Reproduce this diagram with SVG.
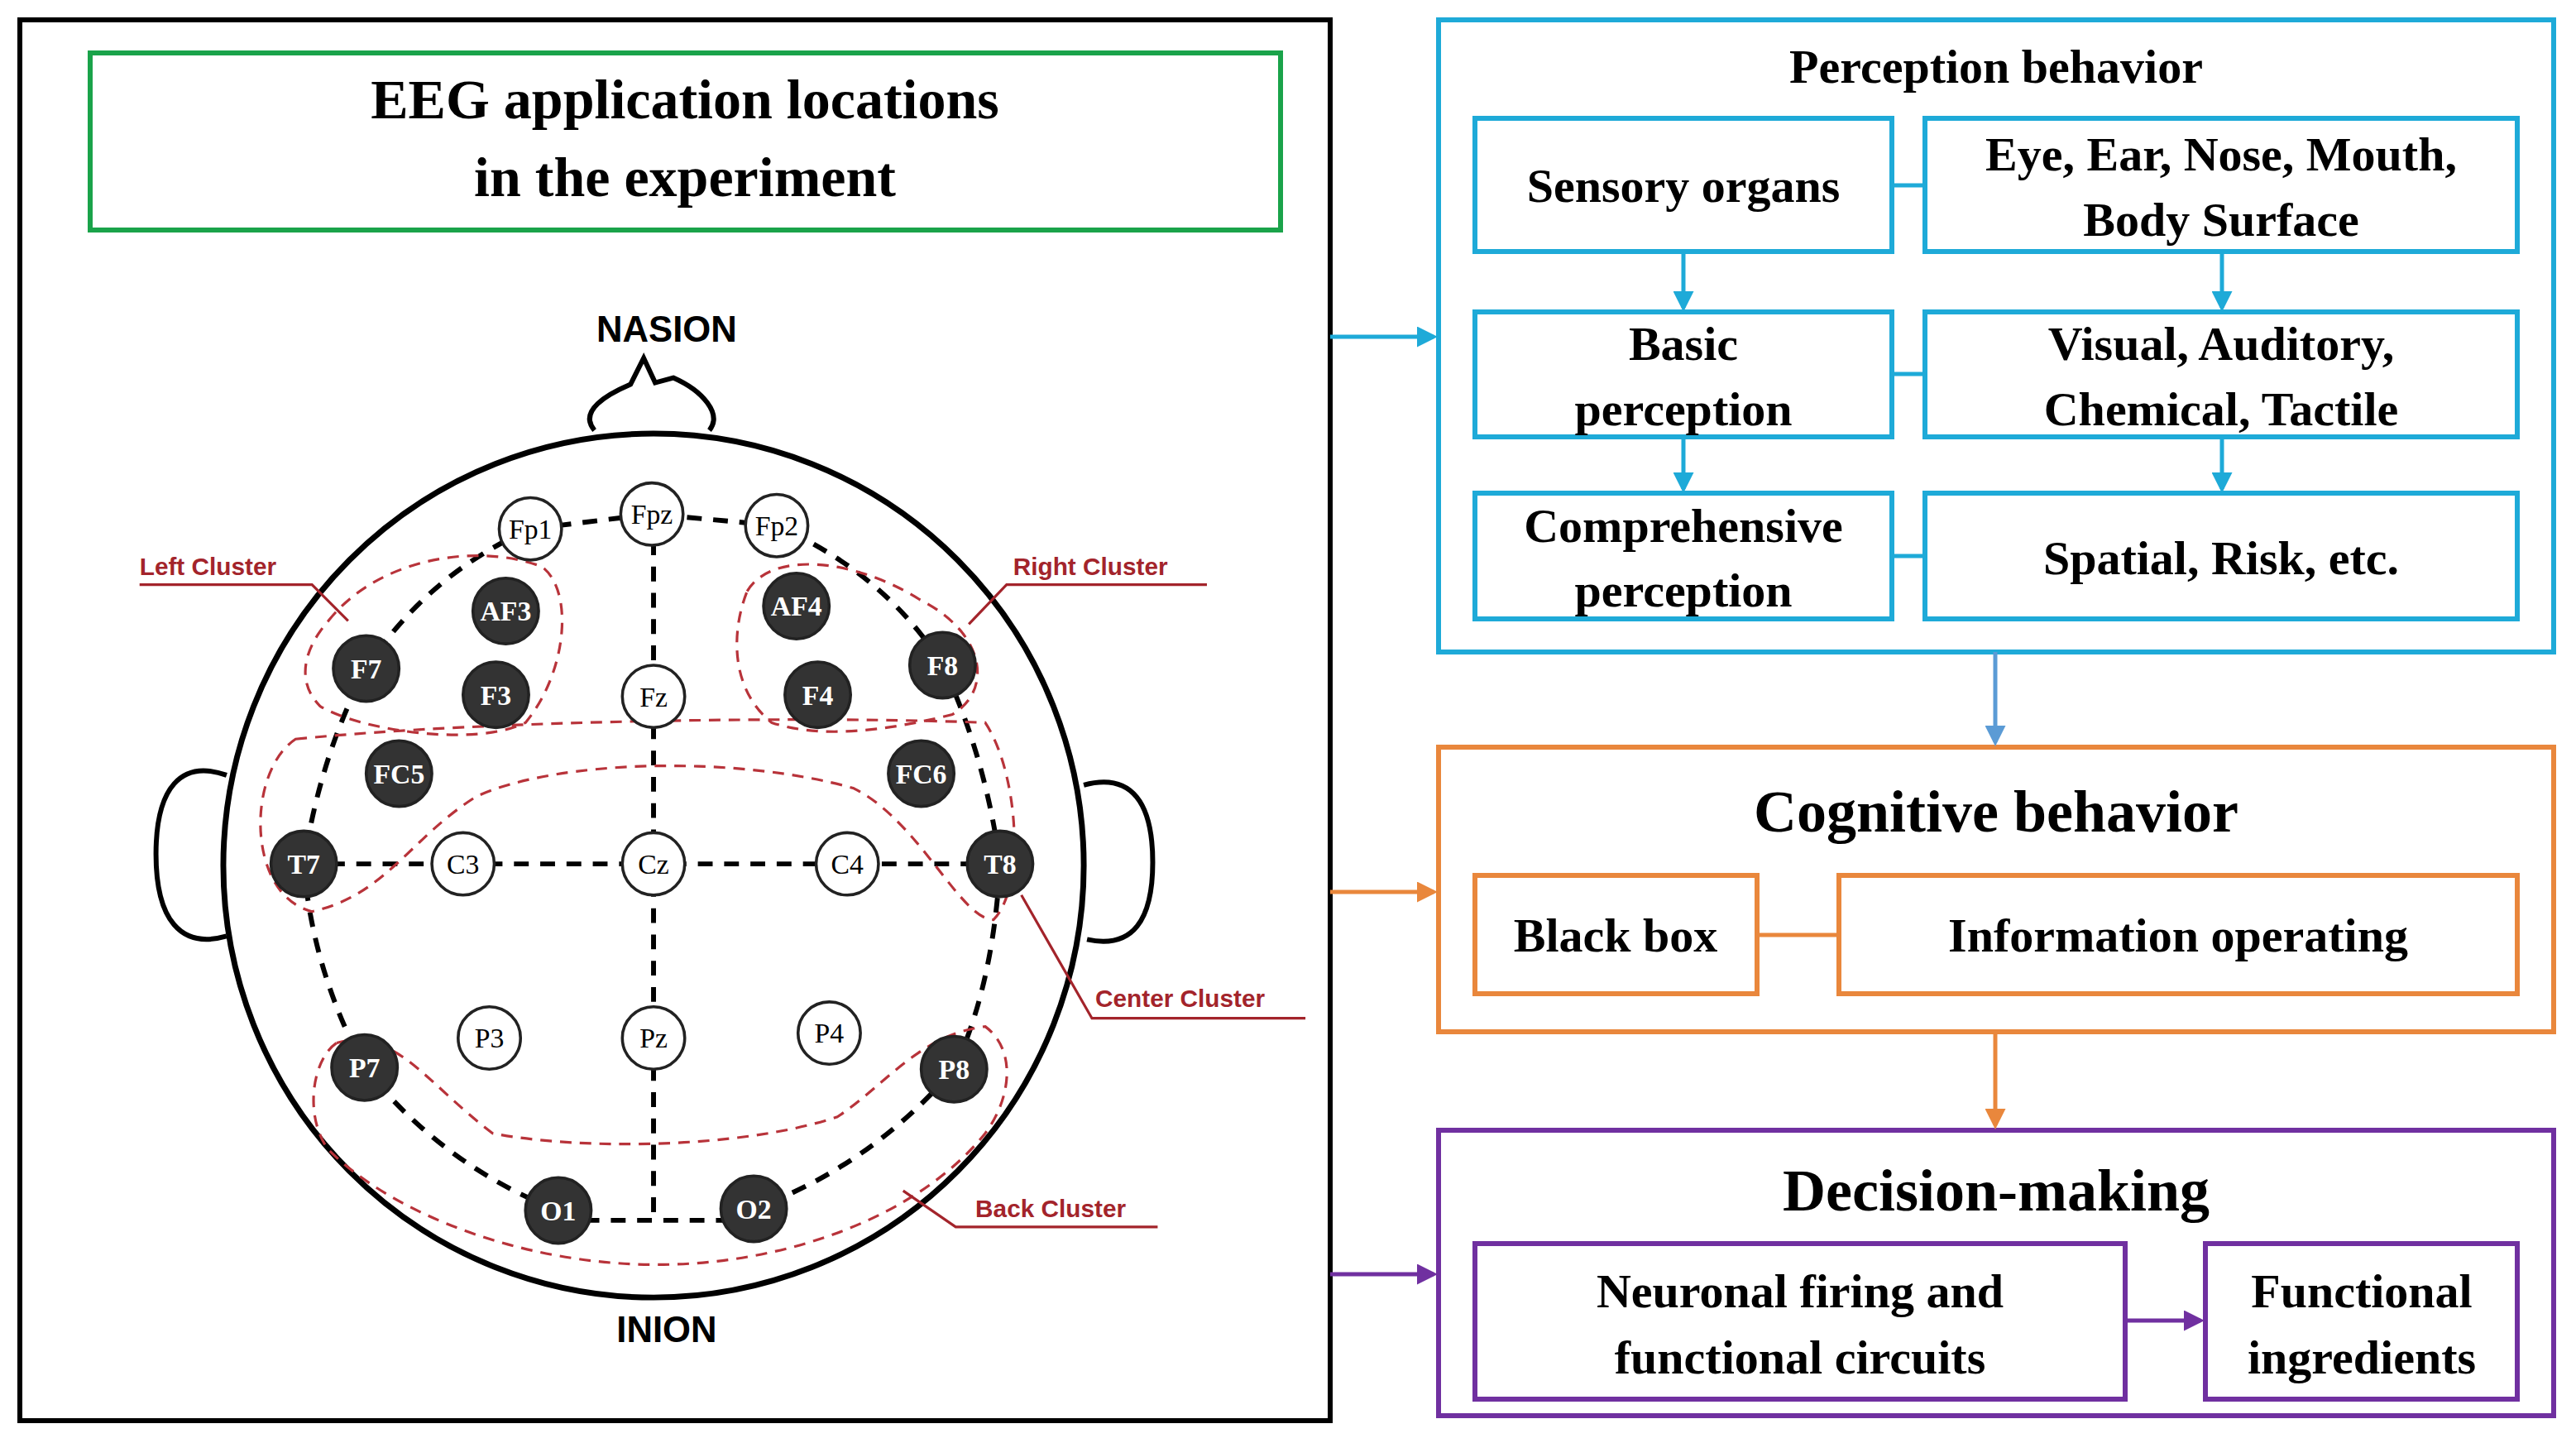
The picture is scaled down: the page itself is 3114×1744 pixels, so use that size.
<svg xmlns="http://www.w3.org/2000/svg" width="3114" height="1744" viewBox="0 0 3114 1744">
<defs>
<style>
.tb{font-family:"Liberation Serif","Times New Roman",serif;font-weight:bold;fill:#000;text-anchor:middle}
.ar{font-family:"Liberation Sans",Arial,sans-serif;font-weight:bold;text-anchor:middle}
.red{fill:#A3242B;font-family:"Liberation Sans",Arial,sans-serif;font-weight:bold;font-size:15px}
.cl{fill:none;stroke:#B8333A;stroke-width:1.6;stroke-dasharray:7 5}
.bd{fill:none;stroke:#000;stroke-width:3;stroke-dasharray:9 7}
.eo{fill:#fff;stroke:#222;stroke-width:1.8}
.ef{fill:#333;stroke:#222;stroke-width:1.8}
.et{font-family:"Liberation Serif",serif;font-size:17px;text-anchor:middle}
.blue{fill:none;stroke:#1EAAD8;stroke-width:6}
.org{fill:none;stroke:#E9873C;stroke-width:6}
.pur{fill:none;stroke:#7030A0;stroke-width:6}
</style>
<marker id="mb" markerWidth="5" markerHeight="5" refX="4" refY="2.5" orient="auto"><path d="M0,0 L5,2.5 L0,5 Z" fill="#1EAAD8"/></marker>
<marker id="mb2" markerWidth="5" markerHeight="5" refX="4" refY="2.5" orient="auto"><path d="M0,0 L5,2.5 L0,5 Z" fill="#5B9BD5"/></marker>
<marker id="mo" markerWidth="5" markerHeight="5" refX="4" refY="2.5" orient="auto"><path d="M0,0 L5,2.5 L0,5 Z" fill="#E9873C"/></marker>
<marker id="mp" markerWidth="5" markerHeight="5" refX="4" refY="2.5" orient="auto"><path d="M0,0 L5,2.5 L0,5 Z" fill="#7030A0"/></marker>
</defs>
<rect width="3114" height="1744" fill="#fff"/>

<g id="left-panel">
<rect x="24" y="24" width="1584" height="1693" fill="none" stroke="#000" stroke-width="6"/>
<rect x="109" y="64" width="1439" height="214" fill="none" stroke="#1AA34A" stroke-width="6"/>
<text class="tb" x="828" y="143" font-size="68">EEG application locations</text>
<text class="tb" x="828" y="237" font-size="68">in the experiment</text>
</g>

<g id="head" transform="scale(1.985)">
<text class="ar" x="406" y="208" font-size="22">NASION</text>
<text class="ar" x="406" y="817" font-size="22">INION</text>
<path d="M362,262 C352,250 370,240 384,234 L392,218 L399,233 L410,230 C428,238 440,252 432,262" fill="#fff" stroke="#000" stroke-width="3"/>
<path d="M138,472 C110,462 95,480 95,520 C95,560 110,578 138,570" fill="none" stroke="#000" stroke-width="3"/>
<path d="M660,478 C690,470 702,490 702,525 C702,560 690,578 662,572" fill="none" stroke="#000" stroke-width="3"/>
<ellipse cx="398" cy="527" rx="262" ry="263" fill="#fff" stroke="#000" stroke-width="3.5"/>
<path class="bd" d="M323,322 L397,313 L473,320 Q540,350 574,405 Q600,460 609,526 Q605,600 581,651 Q530,710 459,736"/>
<path class="bd" d="M340,737 Q270,710 222,650 Q190,590 185,526 Q195,460 223,407 Q260,350 323,322"/>
<path class="bd" d="M398,313 L398,743 M340,743 L459,743 M185,526 L609,526"/>
<path class="cl" d="M200,378 C230,340 290,330 330,345 C350,360 345,410 320,440 C290,455 220,445 195,430 C180,415 185,395 200,378 Z"/>
<path class="cl" d="M455,360 C470,335 520,340 560,365 C600,385 605,420 580,435 C540,445 500,450 470,440 C445,420 445,385 455,360 Z"/>
<path class="cl" d="M180,450 C300,438 500,436 600,440 C620,470 625,540 605,560 C585,560 560,500 520,480 C450,460 340,462 290,485 C250,510 235,545 190,555 C150,545 150,470 180,450 Z"/>
<path class="cl" d="M205,635 C240,625 260,660 300,690 C350,700 450,700 510,680 C540,660 560,630 600,625 C620,640 615,670 600,690 C560,740 480,770 400,770 C320,770 240,740 200,700 C185,680 190,645 205,635 Z"/>
<g stroke="#A3242B" stroke-width="1.6" fill="none">
<path d="M85,356 L190,356 L212,378"/>
<path d="M735,356 L613,356 L590,380"/>
<path d="M795,620 L665,620 L622,545"/>
<path d="M705,747 L582,747 L550,725"/>
</g>
<text class="red" x="85" y="350">Left Cluster</text>
<text class="red" x="617" y="350">Right Cluster</text>
<text class="red" x="667" y="613">Center Cluster</text>
<text class="red" x="594" y="741">Back Cluster</text>
<g id="electrodes">
<circle class="eo" cx="323" cy="322" r="19"/><text class="et" x="323" y="328">Fp1</text>
<circle class="eo" cx="397" cy="313" r="19"/><text class="et" x="397" y="319">Fpz</text>
<circle class="eo" cx="473" cy="320" r="19"/><text class="et" x="473" y="326">Fp2</text>
<circle class="ef" cx="308" cy="372" r="20"/><text class="et" x="308" y="378" fill="#fff" font-weight="bold">AF3</text>
<circle class="ef" cx="485" cy="369" r="20"/><text class="et" x="485" y="375" fill="#fff" font-weight="bold">AF4</text>
<circle class="ef" cx="223" cy="407" r="20"/><text class="et" x="223" y="413" fill="#fff" font-weight="bold">F7</text>
<circle class="ef" cx="302" cy="423" r="20"/><text class="et" x="302" y="429" fill="#fff" font-weight="bold">F3</text>
<circle class="eo" cx="398" cy="424" r="19"/><text class="et" x="398" y="430">Fz</text>
<circle class="ef" cx="498" cy="423" r="20"/><text class="et" x="498" y="429" fill="#fff" font-weight="bold">F4</text>
<circle class="ef" cx="574" cy="405" r="20"/><text class="et" x="574" y="411" fill="#fff" font-weight="bold">F8</text>
<circle class="ef" cx="243" cy="471" r="20"/><text class="et" x="243" y="477" fill="#fff" font-weight="bold">FC5</text>
<circle class="ef" cx="561" cy="471" r="20"/><text class="et" x="561" y="477" fill="#fff" font-weight="bold">FC6</text>
<circle class="ef" cx="185" cy="526" r="20"/><text class="et" x="185" y="532" fill="#fff" font-weight="bold">T7</text>
<circle class="eo" cx="282" cy="526" r="19"/><text class="et" x="282" y="532">C3</text>
<circle class="eo" cx="398" cy="526" r="19"/><text class="et" x="398" y="532">Cz</text>
<circle class="eo" cx="516" cy="526" r="19"/><text class="et" x="516" y="532">C4</text>
<circle class="ef" cx="609" cy="526" r="20"/><text class="et" x="609" y="532" fill="#fff" font-weight="bold">T8</text>
<circle class="ef" cx="222" cy="650" r="20"/><text class="et" x="222" y="656" fill="#fff" font-weight="bold">P7</text>
<circle class="eo" cx="298" cy="632" r="19"/><text class="et" x="298" y="638">P3</text>
<circle class="eo" cx="398" cy="632" r="19"/><text class="et" x="398" y="638">Pz</text>
<circle class="eo" cx="505" cy="629" r="19"/><text class="et" x="505" y="635">P4</text>
<circle class="ef" cx="581" cy="651" r="20"/><text class="et" x="581" y="657" fill="#fff" font-weight="bold">P8</text>
<circle class="ef" cx="340" cy="737" r="20"/><text class="et" x="340" y="743" fill="#fff" font-weight="bold">O1</text>
<circle class="ef" cx="459" cy="736" r="20"/><text class="et" x="459" y="742" fill="#fff" font-weight="bold">O2</text>
</g>
</g>

<g id="perception">
<rect class="blue" x="1739" y="24" width="1348" height="764"/>
<text class="tb" x="2413" y="100" font-size="58">Perception  behavior</text>
<rect class="blue" x="1783" y="143" width="504" height="161"/>
<text class="tb" x="2035" y="244" font-size="58">Sensory organs</text>
<rect class="blue" x="2327" y="143" width="716" height="161"/>
<text class="tb" x="2685" y="206" font-size="58">Eye, Ear, Nose, Mouth,</text>
<text class="tb" x="2685" y="285" font-size="58">Body Surface</text>
<rect class="blue" x="1783" y="377" width="504" height="151"/>
<text class="tb" x="2035" y="435" font-size="58">Basic</text>
<text class="tb" x="2035" y="514" font-size="58">perception</text>
<rect class="blue" x="2327" y="377" width="716" height="151"/>
<text class="tb" x="2685" y="435" font-size="58">Visual, Auditory,</text>
<text class="tb" x="2685" y="514" font-size="58">Chemical, Tactile</text>
<rect class="blue" x="1783" y="596" width="504" height="152"/>
<text class="tb" x="2035" y="655" font-size="58">Comprehensive</text>
<text class="tb" x="2035" y="733" font-size="58">perception</text>
<rect class="blue" x="2327" y="596" width="716" height="152"/>
<text class="tb" x="2685" y="694" font-size="58">Spatial, Risk, etc.</text>
</g>

<g id="cognitive">
<rect class="org" x="1739" y="903" width="1348" height="344"/>
<text class="tb" x="2413" y="1005" font-size="72">Cognitive behavior</text>
<rect class="org" x="1783" y="1058" width="341" height="143"/>
<text class="tb" x="1953" y="1150" font-size="58">Black box</text>
<rect class="org" x="2223" y="1058" width="820" height="143"/>
<text class="tb" x="2633" y="1150" font-size="58">Information operating</text>
</g>

<g id="decision">
<rect class="pur" x="1739" y="1366" width="1348" height="345"/>
<text class="tb" x="2413" y="1463" font-size="72">Decision-making</text>
<rect class="pur" x="1783" y="1503" width="786" height="188"/>
<text class="tb" x="2176" y="1580" font-size="58">Neuronal firing and</text>
<text class="tb" x="2176" y="1660" font-size="58">functional circuits</text>
<rect class="pur" x="2666" y="1503" width="377" height="188"/>
<text class="tb" x="2855" y="1580" font-size="58">Functional</text>
<text class="tb" x="2855" y="1660" font-size="58">ingredients</text>
</g>

<g id="connectors" fill="none">
<line x1="1608" y1="407" x2="1733" y2="407" stroke="#1EAAD8" stroke-width="5" marker-end="url(#mb)"/>
<line x1="1608" y1="1078" x2="1733" y2="1078" stroke="#E9873C" stroke-width="5" marker-end="url(#mo)"/>
<line x1="1608" y1="1540" x2="1733" y2="1540" stroke="#7030A0" stroke-width="5" marker-end="url(#mp)"/>
<line x1="2287" y1="224" x2="2327" y2="224" stroke="#1EAAD8" stroke-width="5"/>
<line x1="2287" y1="452" x2="2327" y2="452" stroke="#1EAAD8" stroke-width="5"/>
<line x1="2287" y1="672" x2="2327" y2="672" stroke="#1EAAD8" stroke-width="5"/>
<line x1="2035" y1="304" x2="2035" y2="372" stroke="#1EAAD8" stroke-width="5" marker-end="url(#mb)"/>
<line x1="2035" y1="528" x2="2035" y2="591" stroke="#1EAAD8" stroke-width="5" marker-end="url(#mb)"/>
<line x1="2686" y1="304" x2="2686" y2="372" stroke="#1EAAD8" stroke-width="5" marker-end="url(#mb)"/>
<line x1="2686" y1="528" x2="2686" y2="591" stroke="#1EAAD8" stroke-width="5" marker-end="url(#mb)"/>
<line x1="2412" y1="788" x2="2412" y2="897" stroke="#5B9BD5" stroke-width="5" marker-end="url(#mb2)"/>
<line x1="2124" y1="1130" x2="2223" y2="1130" stroke="#E9873C" stroke-width="5"/>
<line x1="2412" y1="1247" x2="2412" y2="1360" stroke="#E9873C" stroke-width="5" marker-end="url(#mo)"/>
<line x1="2569" y1="1596" x2="2660" y2="1596" stroke="#7030A0" stroke-width="5" marker-end="url(#mp)"/>
</g>
</svg>
